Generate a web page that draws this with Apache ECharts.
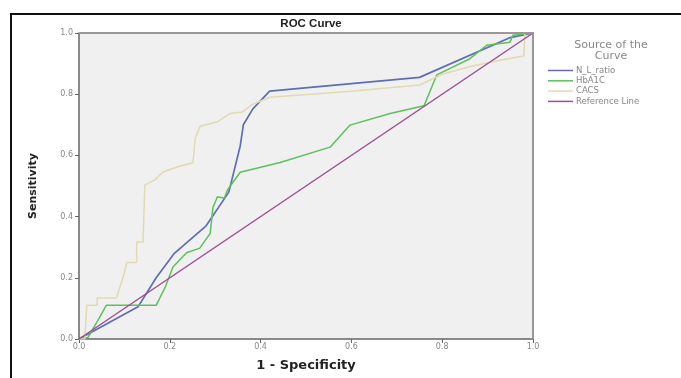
<!DOCTYPE html>
<html>
<head>
<meta charset="utf-8">
<script src="https://cdn.jsdelivr.net/npm/echarts@6/dist/echarts.min.js"></script>
<style>html,body{margin:0;padding:0;background:#fff;}#c{width:681px;height:378px;}</style>
</head>
<body>
<div id="c"></div>
<script>
var tickLabels = ['0.0', '0.2', '0.4', '0.6', '0.8', '1.0'];
var seriesNames = ['N_L_ratio', 'HbA1C', 'CACS', 'Reference Line'];
var nlRatio = [[0,0],[0.13,0.105],[0.17,0.2],[0.21,0.28],[0.28,0.37],[0.33,0.48],[0.355,0.63],[0.362,0.7],[0.383,0.752],[0.42,0.81],[0.75,0.855],[0.95,0.985],[1,1]];
var hba1c = [[0,0],[0.02,0.005],[0.045,0.07],[0.06,0.11],[0.17,0.11],[0.19,0.17],[0.207,0.235],[0.237,0.282],[0.266,0.297],[0.289,0.345],[0.295,0.43],[0.305,0.465],[0.32,0.46],[0.327,0.487],[0.355,0.545],[0.443,0.577],[0.553,0.627],[0.597,0.699],[0.685,0.737],[0.76,0.762],[0.788,0.863],[0.861,0.916],[0.898,0.96],[0.949,0.97],[0.956,0.993],[1,1]];
var cacs = [[0,0],[0.013,0],[0.017,0.11],[0.04,0.11],[0.04,0.134],[0.083,0.134],[0.09,0.17],[0.1,0.215],[0.105,0.25],[0.127,0.25],[0.127,0.317],[0.141,0.317],[0.145,0.503],[0.167,0.52],[0.185,0.546],[0.216,0.562],[0.251,0.576],[0.256,0.657],[0.267,0.695],[0.304,0.709],[0.333,0.737],[0.36,0.742],[0.38,0.765],[0.42,0.79],[0.6,0.81],[0.75,0.83],[0.8,0.865],[0.86,0.89],[0.93,0.912],[0.98,0.925],[0.982,1],[1,1]];
var refLine = [[0,0],[1,1]];

var chart = echarts.init(document.getElementById('c'), null, {renderer:'canvas'});
var FF = 'DejaVu Sans, Arial, sans-serif';
var FA = 'Liberation Sans, Arial, sans-serif';
var axisLabelStyle = {color:'#888', fontSize:8, fontFamily:FF};
function mk(name, data, color, w){
  return {name:name, type:'line', data:data, symbol:'none', showSymbol:false, smooth:false,
    lineStyle:{color:color, width:w}, itemStyle:{color:color}, animation:false};
}
chart.setOption({
  animation:false,
  backgroundColor:'#ffffff',
  title:[
    {text:'ROC Curve', left:306, top:13, textAlign:'center',
     textStyle:{fontSize:11.5, fontWeight:'bold', color:'#222', fontFamily:FA}},
    {text:'Source of the\nCurve', left:606, top:35, textAlign:'center',
     textStyle:{fontSize:11, fontWeight:'normal', color:'#888', lineHeight:10.5, fontFamily:FF}}
  ],
  legend:{orient:'vertical', left:548, top:66, padding:0, itemWidth:25, itemHeight:1.5, itemGap:1.3, icon:'rect',
    data:seriesNames,
    textStyle:{fontSize:8.5, color:'#888', padding:[0,0,0,-2], fontFamily:FF}},
  grid:{left:79, right:148, top:33, bottom:39, show:true, backgroundColor:'#f0f0f0', borderWidth:0},
  xAxis:{type:'value', min:0, max:1, interval:0.2,
    name:'1 - Specificity', nameLocation:'middle', nameGap:20,
    nameTextStyle:{fontSize:13, fontWeight:'bold', color:'#222', fontFamily:FF},
    axisLine:{show:true, lineStyle:{color:'#666', width:1.5}},
    axisTick:{show:true, length:4, lineStyle:{color:'#666'}},
    splitLine:{show:false},
    axisLabel:Object.assign({formatter:function(v){return tickLabels[Math.round(v*5)];}, margin:4}, axisLabelStyle)},
  yAxis:{type:'value', min:0, max:1, interval:0.2,
    name:'Sensitivity', nameLocation:'middle', nameGap:40,
    nameTextStyle:{fontSize:11, fontWeight:'bold', color:'#222', fontFamily:FF},
    axisLine:{show:true, lineStyle:{color:'#666', width:1.5}},
    axisTick:{show:true, length:4, lineStyle:{color:'#666'}},
    splitLine:{show:false},
    axisLabel:Object.assign({formatter:function(v){return tickLabels[Math.round(v*5)];}, margin:6}, axisLabelStyle)},
  graphic:[
    {type:'line', shape:{x1:10, y1:14, x2:681, y2:14}, style:{stroke:'#111', lineWidth:2}, silent:true},
    {type:'line', shape:{x1:11, y1:14, x2:11, y2:378}, style:{stroke:'#111', lineWidth:2}, silent:true},
    {type:'line', shape:{x1:79, y1:33, x2:534, y2:33}, style:{stroke:'#999', lineWidth:2}, silent:true, z:10},
    {type:'line', shape:{x1:533, y1:33, x2:533, y2:339}, style:{stroke:'#999', lineWidth:2}, silent:true, z:10}
  ],
  series:[
    mk('N_L_ratio', nlRatio, '#5f6db2', 1.7),
    mk('HbA1C', hba1c, '#5cc05c', 1.5),
    mk('CACS', cacs, '#e2d9b0', 1.5),
    mk('Reference Line', refLine, '#9c4f96', 1.5)
  ]
});
</script>
</body>
</html>
